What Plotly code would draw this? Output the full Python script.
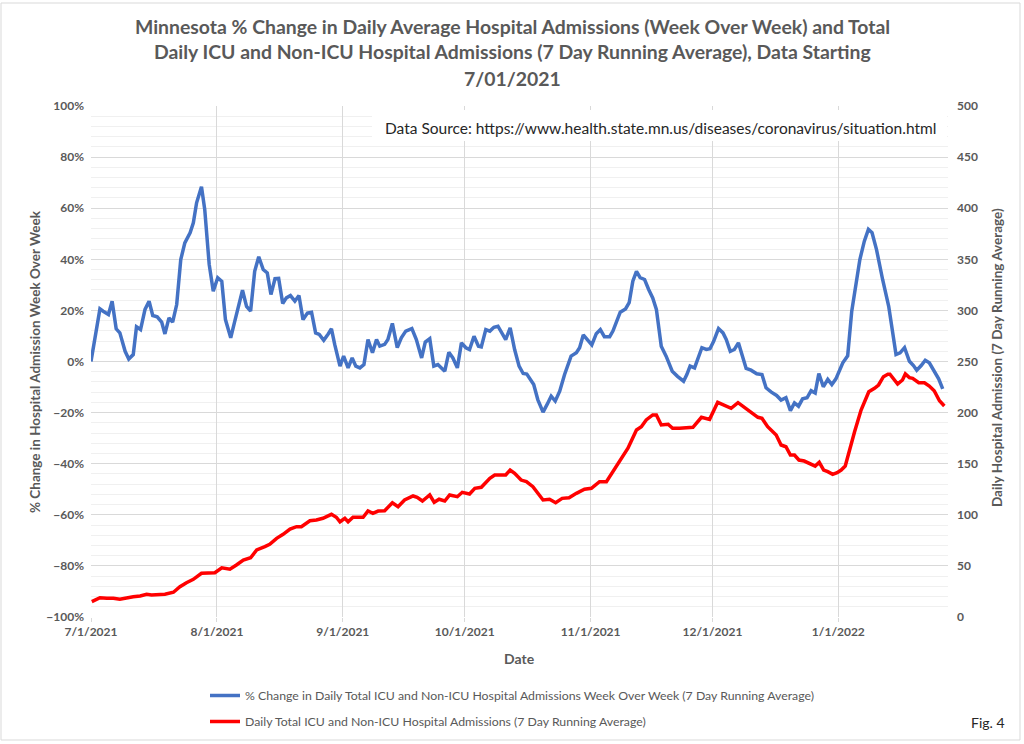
import plotly.graph_objects as go
import pandas as pd

# ---------------- data ----------------
start_date = "2021-07-01"

# day offsets from 7/1/2021 and % change week over week (left axis)
blue_day = [0, 2.2, 3, 4.3, 5.2, 6.2, 7.1, 8.4, 9.3, 10.4,
            11.2, 12.2, 13.3, 14.3, 15.2, 16.3, 17.4, 18.2, 19.2, 20.1,
            21.1, 22.1, 23.1, 24.4, 25.2, 26, 27.2, 28, 29.1, 30.1,
            31.2, 32.2, 33.1, 34.4, 35.3, 36.2, 37.3, 38.3, 39.3, 40.3,
            41.3, 42.4, 43.4, 44.3, 45.3, 46.2, 47.2, 48.1, 49.1, 50.2,
            51.2, 52.2, 53.3, 54.3, 55.3, 56.2, 57.3, 58.4, 59.2, 60,
            61.3, 62.2, 63.3, 64.3, 65.2, 66.2, 67.2, 68.2, 69.3, 70.3,
            71.1, 72.3, 73.1, 74.2, 75.4, 76.4, 77.5, 79, 80.1, 81.4,
            82.3, 83.4, 84.4, 85.4, 87.1, 88.1, 89.1, 90.2, 91.2, 92.3,
            93.2, 94.3, 95.4, 96.1, 97.2, 98.2, 99.2, 100.2, 101.1, 102.1,
            103.2, 104.3, 105.4, 106.4, 107.3, 109, 110, 111.3, 112.3, 113.3,
            114.3, 115.4, 116.6, 118.2, 119.5, 120.3, 121.2, 122.4, 123.3, 124.4,
            125.4, 126.4, 127.7, 128.5, 129.5, 130.3, 131.6, 132.5, 133.4, 134.3,
            135.2, 136.3, 137.3, 138.3, 139.2, 140.4, 141.6, 143.1, 144.4, 145.9,
            146.7, 147.5, 148.6, 149.4, 150.4, 151.5, 152.4, 153.3, 154.5, 155.6,
            156.4, 157.4, 158.4, 159.4, 160.5, 161.3, 162.5, 163.9, 165.2, 166.2,
            167.5, 168.8, 169.9, 171.1, 172.2, 173.2, 174.2, 175.2, 176.3, 177.3,
            178.3, 179.2, 180.3, 181.4, 182.4, 183.4, 185.1, 186.3, 187.3, 188.3,
            189.3, 190.4, 191.4, 192.3, 193.4, 194.9, 196.4, 198.2, 199.2, 200.3,
            201.5, 202.5, 203.3, 204.4, 205.4, 206.4, 207.2, 208.1, 208.7, 209.7]
blue_pct = [0, 20.6, 19.7, 18.4, 23.6, 12.8, 11.2, 4, 1, 2.7,
            13.6, 12.5, 20.4, 23.6, 18, 17.5, 15.4, 10.8, 17.1, 15.4,
            22.3, 39.9, 46.4, 50.4, 54.3, 62.1, 68.4, 59.5, 38, 27.5,
            32.8, 31.4, 16.4, 9.3, 15.1, 20.4, 27.9, 21.6, 19.7, 35.3,
            41, 36, 34.7, 26.2, 32.4, 32.5, 22.7, 24.9, 25.8, 23.6,
            25.8, 16.4, 19, 19.3, 11.2, 10.6, 8.3, 10.8, 12.8, 6.7,
            -1.8, 2.1, -2.5, 1.4, -1.8, -2.5, -1.2, 8.6, 3.4, 8.6,
            6, 6.7, 8.6, 14.9, 5.4, 9.3, 11.9, 12.9, 8.6, 1.4,
            7.6, 8.9, -1.8, -1.2, -3.8, 3.6, 1.4, -2.5, 7.3, 5.4,
            4.7, 9.9, 6, 5.7, 12.5, 11.9, 13.4, 13.8, 11, 8.6,
            13.2, 4.7, -1.8, -4.7, -4.9, -9, -14.9, -19.8, -16.8, -13.6,
            -15.5, -11.6, -5.1, 2.1, 3.4, 5.4, 10.4, 7.9, 6.5, 10.9,
            12.5, 9.7, 9.7, 11.9, 15.8, 19.3, 20.6, 23, 31.4, 35.3,
            32.8, 32.1, 28.2, 24.9, 20.4, 6, 2.1, -3.8, -5.8, -7.7,
            -5.1, -1.8, -2.5, 0.8, 5.4, 4.7, 5, 7.9, 12.9, 11.2,
            8.6, 4, 4.7, 7.3, 1.4, -2.7, -3.4, -4.8, -5.1, -10.3,
            -12, -13.3, -15.1, -14.2, -19.2, -16.2, -17.5, -14.6, -14.2, -11.4,
            -12.3, -4.7, -9.9, -7, -9, -6.8, -0.5, 2.2, 19.7, 29.5,
            39.9, 47.1, 51.7, 50.4, 43.8, 32.1, 21.6, 2.7, 3.4, 5.4,
            0.1, -1.6, -3.4, -1.6, 0.5, -0.5, -2.9, -5.1, -6.8, -10.7]

# day offsets from 7/1/2021 and daily admissions, 7-day avg (right axis)
red_day = [0.2, 2.2, 3.9, 5.5, 7.1, 8.8, 10.4, 12.1, 13.7, 14.9,
           16.6, 18.2, 20.3, 21.9, 23.5, 25.2, 27.2, 28.9, 30.5, 32.2,
           34.2, 35.8, 37.5, 39.3, 40.8, 42.8, 44, 45.7, 47.3, 49,
           50.6, 51.8, 53.9, 55.5, 57.1, 59.2, 60.4, 61.3, 62.5, 63.3,
           64.5, 67, 68.2, 69.4, 70.7, 72.3, 74.2, 75.6, 77.2, 79.3,
           80.3, 81.6, 83.4, 84.5, 85.7, 87.1, 88.3, 90.2, 91.4, 93.2,
           94.5, 96.1, 98.2, 99.4, 102.1, 103.2, 104.3, 105.9, 107.2, 108.8,
           110, 111.3, 112.9, 114.4, 116, 117.7, 119.5, 121.5, 123.2, 125.2,
           126.9, 128.5, 130.1, 132.2, 134.3, 135.5, 136.7, 138.3, 139.2, 140.4,
           142.1, 143.2, 144.9, 148.2, 150.3, 152.3, 154.3, 155.6, 157.6, 159.3,
           160.9, 162.5, 164.2, 165.2, 166.6, 168.7, 169.9, 171.1, 172.2, 173.2,
           174.3, 175.6, 176.9, 178.3, 179.3, 180.4, 181.4, 182.6, 183.7, 184.7,
           185.7, 186.7, 188, 189.6, 191.5, 192.9, 193.9, 195.1, 196.2, 196.7,
           198.6, 199.8, 200.5, 201.5, 202.3, 203.8, 205.2, 206.4, 207.6, 208.9,
           210.1]
red_val = [15, 18.9, 18.3, 18.3, 17.3, 18.9, 19.9, 20.5, 22.2, 21.5,
           22.2, 22.2, 24.2, 29.6, 33.6, 36.9, 42.8, 42.8, 43.3, 48.2,
           46.7, 50.9, 55.8, 58, 65.6, 68.8, 71.1, 77, 80.9, 86.1,
           88.4, 88.4, 94.2, 94.9, 96.6, 100.5, 97.6, 93.2, 96.6, 93.2,
           97.6, 97.6, 103.7, 101.5, 103.7, 104, 111.8, 107.9, 114.5, 118.4,
           117.1, 113.5, 119.4, 112.2, 115.2, 113.5, 119.4, 117.7, 122, 120.4,
           125.9, 126.9, 135.7, 138.9, 138.9, 143.8, 140.6, 134, 132.4, 127.5,
           121, 114.5, 115.2, 111.8, 116.1, 116.7, 121, 125, 125.9, 132.4,
           132.4, 142.2, 152, 165.1, 183, 186.2, 192.8, 197.7, 197.7, 187.9,
           188.6, 184.6, 184.6, 185.6, 195.4, 193.4, 210.1, 207.4, 204.2, 209.7,
           205.2, 200.9, 195.4, 194.4, 186.2, 178.1, 168.3, 166.6, 158.5, 158.5,
           153.6, 152.6, 150.4, 147.7, 151.4, 143.8, 142.2, 139.6, 141.2, 143.8,
           147.7, 163.4, 181.3, 202.5, 220.4, 223.8, 227, 235.1, 237.5, 237.5,
           228, 231.9, 237.8, 234.2, 233.5, 229.2, 229.2, 226, 221.4, 211.6,
           206.5]

tick_dates = ["2021-07-01", "2021-08-01", "2021-09-01", "2021-10-01",
              "2021-11-01", "2021-12-01", "2022-01-01"]
tick_labels = ["7/1/2021", "8/1/2021", "9/1/2021", "10/1/2021",
               "11/1/2021", "12/1/2021", "1/1/2022"]
x_end = "2022-01-28"

blue_name = "% Change in Daily Total ICU and Non-ICU Hospital Admissions Week Over Week (7 Day Running Average)"
red_name = "Daily Total ICU and Non-ICU Hospital Admissions (7 Day Running Average)"

# ---------------- figure ----------------
t0 = pd.Timestamp(start_date)
blue_x = t0 + pd.to_timedelta(blue_day, unit="D")
red_x = t0 + pd.to_timedelta(red_day, unit="D")

W, H = 1024, 744
L, R, T, B = 91, 76, 106, 127
pw, ph = W - L - R, H - T - B


def px(x):
    return (x - L) / pw


def py(y):
    return (H - B - y) / ph


FONT = "Lato"
GREY = "#595959"

fig = go.Figure()
fig.add_trace(go.Scatter(x=blue_x, y=blue_pct, mode="lines", name=blue_name,
                         line=dict(color="#4472C4", width=3.5), yaxis="y",
                         legendgroup="a"))
fig.add_trace(go.Scatter(x=red_x, y=red_val, mode="lines", name=red_name,
                         line=dict(color="#FF0000", width=3.5), yaxis="y2",
                         legendgroup="b"))

tickfont = dict(family=FONT, size=12, color=GREY, weight="bold")

fig.update_layout(
    width=W, height=H,
    margin=dict(l=L, r=R, t=T, b=B, pad=0, autoexpand=False),
    paper_bgcolor="white", plot_bgcolor="white",
    showlegend=True,
    legend=dict(x=px(205), y=py(681), xanchor="left", yanchor="top",
                font=dict(family=FONT, size=12.3, color=GREY),
                tracegroupgap=7, bgcolor="rgba(0,0,0,0)"),
    xaxis=dict(type="date", range=[start_date, x_end],
               tickmode="array", tickvals=tick_dates, ticktext=tick_labels,
               showgrid=True, gridcolor="#d9d9d9", gridwidth=1,
               zeroline=False, showline=False,
               ticks="outside", ticklen=4, tickcolor="#d9d9d9",
               tickfont=tickfont),
    yaxis=dict(range=[-100, 100], dtick=20, tick0=0, ticksuffix="%",
               showgrid=True, gridcolor="#d9d9d9", gridwidth=1,
               minor=dict(dtick=4, showgrid=True, gridcolor="#f0f0f0"),
               zeroline=False, showline=False, ticks="",
               ticklabelstandoff=6, tickfont=tickfont),
    yaxis2=dict(range=[0, 500], dtick=50, overlaying="y", side="right",
                showgrid=False, zeroline=False, showline=False, ticks="",
                ticklabelstandoff=8, tickfont=tickfont),
)

title_lines = [
    "Minnesota % Change in Daily Average Hospital Admissions (Week Over Week) and Total",
    "Daily ICU and Non-ICU Hospital Admissions (7 Day Running Average), Data Starting",
    "7/01/2021",
]
title_y = [26, 52, 78]
ann = []
for txt, yy in zip(title_lines, title_y):
    ann.append(dict(text="<b>%s</b>" % txt, x=px(512), y=py(yy), xref="paper", yref="paper",
                    xanchor="center", yanchor="middle", showarrow=False,
                    font=dict(family=FONT, size=19.4, color=GREY)))

ann += [
    dict(text="Data Source: https://www.health.state.mn.us/diseases/coronavirus/situation.html",
         x=px(660), y=py(128), xref="paper", yref="paper", xanchor="center", yanchor="middle",
         showarrow=False, font=dict(family=FONT, size=15.5, color="#262626")),
    dict(text="<b>% Change in Hospital Admission Week Over Week</b>", textangle=-90,
         x=px(35), y=py(362), xref="paper", yref="paper", xanchor="center", yanchor="middle",
         showarrow=False, font=dict(family=FONT, size=13.5, color=GREY)),
    dict(text="<b>Daily Hospital Admission (7 Day Running Average)</b>", textangle=-90,
         x=px(997), y=py(358), xref="paper", yref="paper", xanchor="center", yanchor="middle",
         showarrow=False, font=dict(family=FONT, size=13.5, color=GREY)),
    dict(text="<b>Date</b>", x=px(519), y=py(658), xref="paper", yref="paper",
         xanchor="center", yanchor="middle", showarrow=False,
         font=dict(family=FONT, size=14, color=GREY)),
    dict(text="Fig. 4", x=px(988), y=py(722), xref="paper", yref="paper",
         xanchor="center", yanchor="middle", showarrow=False,
         font=dict(family=FONT, size=14, color="#262626")),
]
fig.update_layout(annotations=ann)

fig.update_layout(shapes=[
    dict(type="rect", xref="paper", yref="paper", layer="above",
         x0=px(372), x1=px(947), y0=py(141), y1=py(110),
         fillcolor="white", line=dict(width=0)),
    dict(type="rect", xref="paper", yref="paper", layer="above",
         x0=px(1), x1=px(1020), y0=py(740), y1=py(3),
         fillcolor="rgba(0,0,0,0)", line=dict(width=1, color="#d9d9d9")),
])

fig.write_html("out.html", config={"displayModeBar": False},
               post_script="document.body.style.margin='0';document.body.style.overflow='hidden';")
